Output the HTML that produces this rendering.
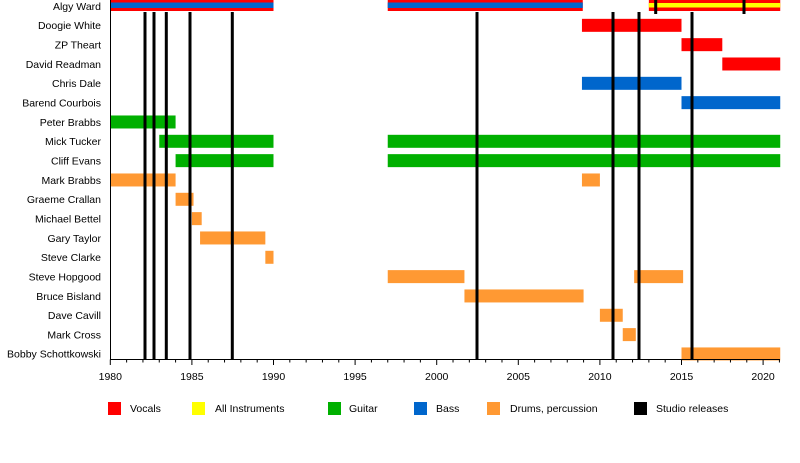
<!DOCTYPE html>
<html><head><meta charset="utf-8"><style>
html,body{margin:0;padding:0;background:#fff;}
svg text{font-family:"Liberation Sans",sans-serif;font-size:10.5px;fill:#000;}
</style></head><body>
<svg width="800" height="458" xmlns="http://www.w3.org/2000/svg">
<g id="bars"></g>
<g id="rest"></g>
</svg>
<script>
const X=y=>110.3+(y-1980)*16.32;
const R=i=>6+i*19.33;
const C={v:"#ff0000",y:"#ffff00",g:"#00b000",b:"#0066cc",d:"#ff9933",k:"#000"};
const names=["Algy Ward","Doogie White","ZP Theart","David Readman","Chris Dale","Barend Courbois","Peter Brabbs","Mick Tucker","Cliff Evans","Mark Brabbs","Graeme Crallan","Michael Bettel","Gary Taylor","Steve Clarke","Steve Hopgood","Bruce Bisland","Dave Cavill","Mark Cross","Bobby Schottkowski"];
const bars=[[1,2008.9,2015,"v"],[2,2015,2017.5,"v"],[3,2017.5,2021.05,"v"],[4,2008.9,2015,"b"],[5,2015,2021.05,"b"],
[6,1980,1984,"g"],[7,1983,1990,"g"],[7,1997,2021.05,"g"],[8,1984,1990,"g"],[8,1997,2021.05,"g"],
[9,1980,1984,"d"],[9,2008.9,2010,"d"],[10,1984,1985.1,"d"],[11,1985,1985.6,"d"],[12,1985.5,1989.5,"d"],[13,1989.5,1990,"d"],
[14,1997,2001.7,"d"],[14,2012.1,2015.1,"d"],[15,2001.7,2009,"d"],[16,2010,2011.4,"d"],[17,2011.4,2012.2,"d"],[18,2015,2021.05,"d"]];
let s="";
[[1980,1990],[1997,2008.95]].forEach(([a,b])=>{s+=`<rect x="${X(a)}" y="0" width="${X(b)-X(a)}" height="11" fill="${C.v}"/><rect x="${X(a)}" y="2.5" width="${X(b)-X(a)}" height="5.5" fill="${C.b}"/>`;});
s+=`<rect x="${X(2013)}" y="0" width="${X(2021.05)-X(2013)}" height="11" fill="${C.v}"/><rect x="${X(2013)}" y="3" width="${X(2021.05)-X(2013)}" height="4.5" fill="${C.y}"/>`;
bars.forEach(([i,a,b,c])=>{s+=`<rect x="${X(a)}" y="${R(i)-6.5}" width="${X(b)-X(a)}" height="13" fill="${C[c]}"/>`;});
[145,154,166.3,190,232.3,477,613,639,692].forEach(x=>{s+=`<rect x="${x-1.5}" y="12" width="3" height="347" fill="#000"/>`;});
[655.7,744].forEach(x=>{s+=`<rect x="${x-1.5}" y="0" width="3" height="14" fill="#000"/>`;});
document.getElementById("bars").innerHTML=s;
let t="";
names.forEach((n,i)=>{t+=`<text x="101" y="${R(i)+3.8}" text-anchor="end">${n}</text>`;});
t+=`<line x1="110.5" y1="0" x2="110.5" y2="359.5" stroke="#000"/>`;
t+=`<line x1="110" y1="359.5" x2="780" y2="359.5" stroke="#000"/>`;
for(let y=1980;y<=2021;y++){const x=X(y);const big=y%5==0;t+=`<line x1="${x}" y1="359.5" x2="${x}" y2="${big?365:362.5}" stroke="#000"/>`;if(big)t+=`<text x="${x}" y="380" text-anchor="middle">${y}</text>`;}
const L=[[108,130,"v","Vocals"],[192,215,"y","All Instruments"],[328,349,"g","Guitar"],[414,436,"b","Bass"],[487,510,"d","Drums, percussion"],[634,656,"k","Studio releases"]];
L.forEach(([a,b,c,n])=>{t+=`<rect x="${a}" y="402" width="13" height="13" fill="${C[c]}"/><text x="${b}" y="412">${n}</text>`;});
document.getElementById("rest").innerHTML=t;
</script>
</body></html>
